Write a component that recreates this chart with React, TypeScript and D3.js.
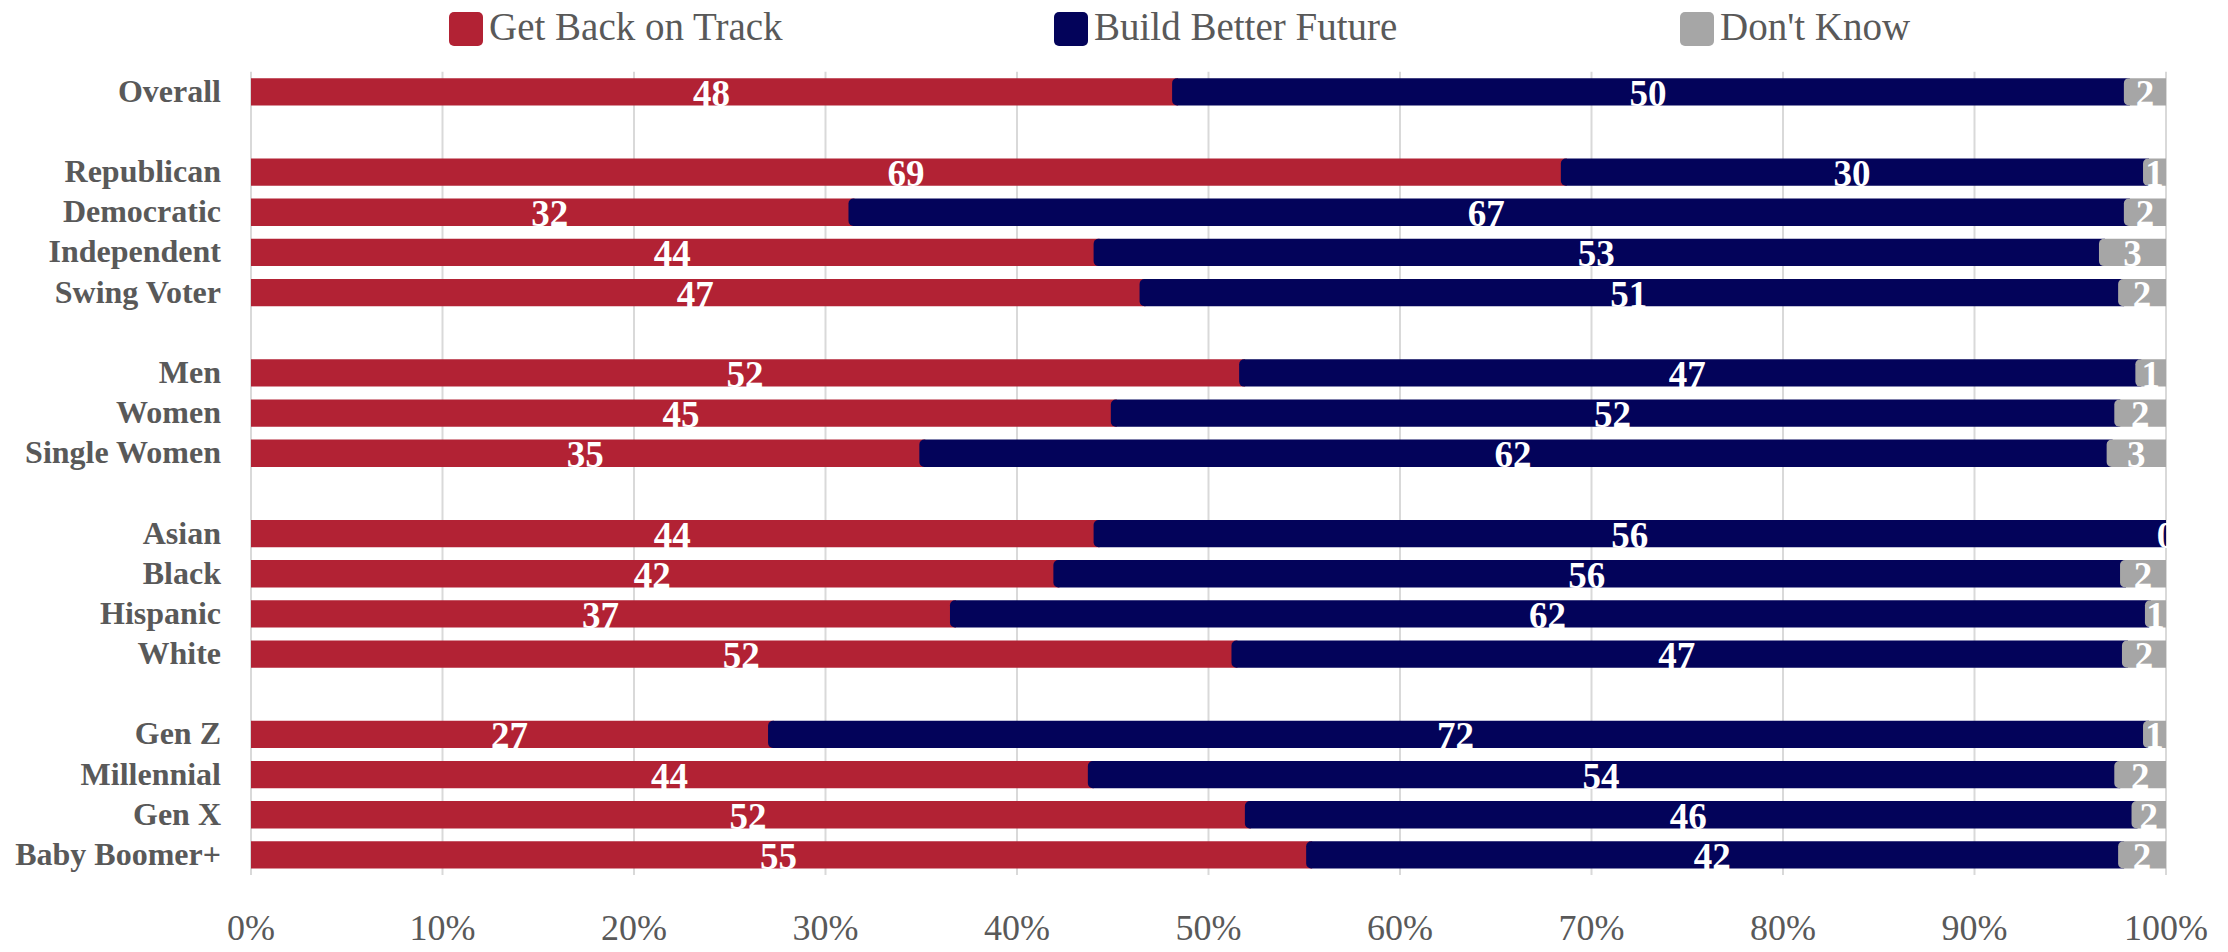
import React, { useEffect, useRef } from 'react';
import * as d3 from 'd3';

// category groups, a blank row is drawn between each group
const groups = [
  ['Overall'],
  ['Republican', 'Democratic', 'Independent', 'Swing Voter'],
  ['Men', 'Women', 'Single Women'],
  ['Asian', 'Black', 'Hispanic', 'White'],
  ['Gen Z', 'Millennial', 'Gen X', 'Baby Boomer+'],
];

// segment widths (percent of row)
const getBackOnTrack = [48.1, 68.4, 31.2, 44.0, 46.4, 51.6, 44.9, 34.9, 44.0, 41.9, 36.5, 51.2, 27.0, 43.7, 51.9, 55.1];
const buildBetterFuture = [49.7, 30.4, 66.6, 52.5, 51.1, 46.8, 52.4, 62.0, 56.0, 55.7, 62.4, 46.5, 71.8, 53.6, 46.3, 42.4];
const dontKnow = [2.2, 1.2, 2.2, 3.5, 2.5, 1.6, 2.7, 3.1, 0, 2.4, 1.1, 2.3, 1.2, 2.7, 1.8, 2.5];

// printed labels
const getBackLabels = [48, 69, 32, 44, 47, 52, 45, 35, 44, 42, 37, 52, 27, 44, 52, 55];
const buildLabels = [50, 30, 67, 53, 51, 47, 52, 62, 56, 56, 62, 47, 72, 54, 46, 42];
const dontKnowLabels = [2, 1, 2, 3, 2, 1, 2, 3, 0, 2, 1, 2, 1, 2, 2, 2];

const seriesKeys = ['get', 'build', 'dk'];
const seriesNames = ['Get Back on Track', 'Build Better Future', "Don't Know"];
const seriesColors = ['#B22234', '#03035A', '#A6A6A6'];
const xTicks = [0, 10, 20, 30, 40, 50, 60, 70, 80, 90, 100];

const FONT = '"Liberation Serif", "Times New Roman", serif';
const TEXT = '#595959';

const Chart = () => {
  const svgRef = useRef<SVGSVGElement>(null);

  useEffect(() => {
    const width = 2228;
    const height = 952;
    const left = 251, right = 2166, top = 71.7, bottom = 875;

    const categories = groups.flat();
    const rowKeys: string[] = [];
    groups.forEach((g, i) => {
      if (i > 0) rowKeys.push(`gap-${i}`);
      g.forEach(c => rowKeys.push(c));
    });

    const table = categories.map((c, i) => ({
      cat: c,
      get: getBackOnTrack[i],
      build: buildBetterFuture[i],
      dk: dontKnow[i],
      labels: [getBackLabels[i], buildLabels[i], dontKnowLabels[i]],
    }));

    const stacked = d3.stack<any>().keys(seriesKeys)(table);

    const svg = d3.select(svgRef.current);
    svg.selectAll('*').remove();
    svg.attr('width', width).attr('height', height);

    const x = d3.scaleLinear().domain([0, 100]).range([left, right]);
    const y = d3.scaleBand<string>()
      .domain(rowKeys)
      .range([top, bottom])
      .paddingInner(0.32)
      .paddingOuter(0.16);
    const bw = y.bandwidth();

    svg.append('defs').append('clipPath')
      .attr('id', 'plot-clip')
      .append('rect')
      .attr('x', left - 2)
      .attr('y', 0)
      .attr('width', right - left + 3)
      .attr('height', height);

    // grid
    svg.append('g')
      .selectAll('line')
      .data(xTicks)
      .enter()
      .append('line')
      .attr('x1', d => x(d))
      .attr('x2', d => x(d))
      .attr('y1', top)
      .attr('y2', bottom)
      .attr('stroke', '#D9D9D9')
      .attr('stroke-width', 2);

    // x tick labels
    svg.append('g')
      .selectAll('text')
      .data(xTicks)
      .enter()
      .append('text')
      .attr('x', d => x(d))
      .attr('y', 940)
      .attr('text-anchor', 'middle')
      .attr('font-family', FONT)
      .attr('font-size', 36)
      .attr('fill', TEXT)
      .text(d => `${d}%`);

    // category labels
    svg.append('g')
      .selectAll('text')
      .data(categories)
      .enter()
      .append('text')
      .attr('x', 221)
      .attr('y', d => (y(d) as number) + bw / 2 + 10)
      .attr('text-anchor', 'end')
      .attr('font-family', FONT)
      .attr('font-weight', 'bold')
      .attr('font-size', 32)
      .attr('fill', TEXT)
      .text(d => d);

    const r = 5;
    const segPath = (x0: number, x1: number, y0: number, h: number, rad: number) => {
      if (rad === 0) return `M${x0},${y0}H${x1}V${y0 + h}H${x0}Z`;
      return `M${x0 + rad},${y0}H${x1}V${y0 + h}H${x0 + rad}` +
        `A${rad},${rad} 0 0 1 ${x0},${y0 + h - rad}V${y0 + rad}` +
        `A${rad},${rad} 0 0 1 ${x0 + rad},${y0}Z`;
    };

    // bars
    stacked.forEach((layer, si) => {
      svg.append('g')
        .selectAll('path')
        .data(layer.filter(d => d[1] - d[0] > 0))
        .enter()
        .append('path')
        .attr('d', d => {
          const x0 = x(d[0]);
          const x1 = d[1] >= 99.99 ? x(100) : x(d[1]) + r + 1;
          return segPath(x0, x1, y(d.data.cat) as number, bw, si === 0 ? 0 : r);
        })
        .attr('fill', seriesColors[si]);
    });

    // segment labels
    stacked.forEach((layer, si) => {
      svg.append('g')
        .attr('clip-path', 'url(#plot-clip)')
        .selectAll('text')
        .data(layer)
        .enter()
        .append('text')
        .attr('x', d => (x(d[0]) + x(d[1])) / 2)
        .attr('y', d => (y(d.data.cat) as number) + bw / 2 + 14)
        .attr('text-anchor', 'middle')
        .attr('font-family', FONT)
        .attr('font-weight', 'bold')
        .attr('font-size', 37)
        .attr('fill', '#fff')
        .text(d => d.data.labels[si]);
    });

    // legend
    const legendX = [449, 1054, 1680];
    const legend = svg.append('g');
    seriesNames.forEach((name, i) => {
      legend.append('rect')
        .attr('x', legendX[i])
        .attr('y', 12)
        .attr('width', 34)
        .attr('height', 34)
        .attr('rx', 5)
        .attr('fill', seriesColors[i]);
      legend.append('text')
        .attr('x', legendX[i] + 40)
        .attr('y', 40)
        .attr('font-family', FONT)
        .attr('font-size', 39)
        .attr('fill', TEXT)
        .text(name);
    });
  }, []);

  return <svg ref={svgRef} style={{ position: 'absolute', left: 0, top: 0, display: 'block', background: '#fff' }}></svg>;
};

export default function App() {
  return <Chart />;
}
